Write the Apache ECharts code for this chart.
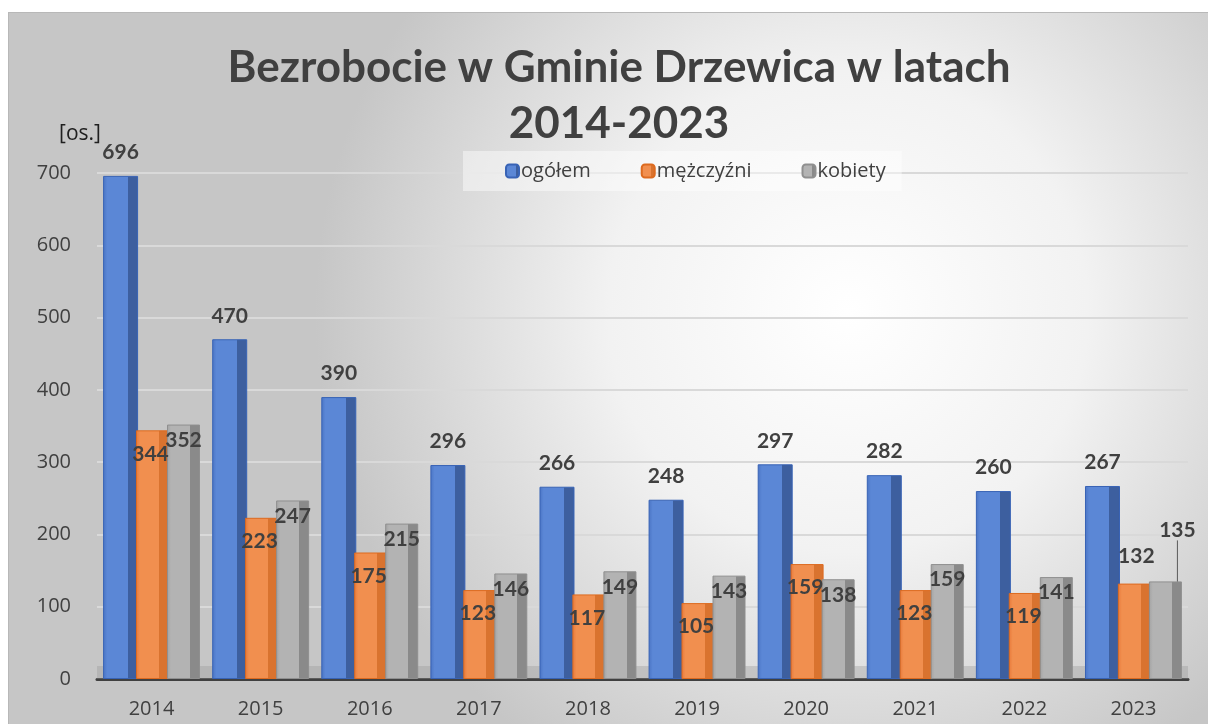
<!DOCTYPE html>
<html>
<head>
<meta charset="utf-8">
<script src="https://cdn.jsdelivr.net/npm/echarts@6/dist/echarts.min.js"></script>
<style>
  html, body { margin: 0; padding: 0; background: #ffffff; }
  #main { position: absolute; left: 8px; top: 12px; width: 1200px; height: 712px; border-top: 1px solid #b8b8b8; border-left: 1px solid #b8b8b8; box-sizing: border-box; }
</style>
</head>
<body>
<div id="main"></div>
<script>
var years = ['2014', '2015', '2016', '2017', '2018', '2019', '2020', '2021', '2022', '2023'];
var ogolem = [696, 470, 390, 296, 266, 248, 297, 282, 260, 267];
var mezczyzni = [344, 223, 175, 123, 117, 105, 159, 123, 119, 132];
var kobiety = [352, 247, 215, 146, 149, 143, 138, 159, 141, 135];
var yTicks = [0, 100, 200, 300, 400, 500, 600, 700];

function face(light, mid, dark) {
    // fake 3d: left edge, front, darker right side
    return new echarts.graphic.LinearGradient(0, 0, 1, 0, [
        {offset: 0, color: mid},
        {offset: 0.12, color: light},
        {offset: 0.7, color: light},
        {offset: 0.7, color: dark},
        {offset: 1, color: dark}
    ]);
}

var labelFont = {fontFamily: 'Lato, "Open Sans", sans-serif', fontWeight: 'bold', fontSize: 21, color: '#404040'};
var last = years.length - 1;

function main() {
    var myChart = echarts.init(document.getElementById('main'));

    var option = {
        backgroundColor: new echarts.graphic.RadialGradient(0.7, 0.42, 0.75, [
            {offset: 0, color: '#ffffff'},
            {offset: 0.45, color: '#f2f2f2'},
            {offset: 1, color: '#c6c6c6'}
        ]),
        title: {
            text: 'Bezrobocie w Gminie Drzewica w latach\n2014-2023',
            left: 605,
            textAlign: 'center',
            top: 22,
            textStyle: {
                fontFamily: 'Lato, "Open Sans", sans-serif',
                fontWeight: 'bold',
                fontSize: 44,
                lineHeight: 56,
                color: '#404040'
            }
        },
        legend: {
            data: ['ogółem', 'mężczyźni', 'kobiety'],
            left: 454,
            top: 138,
            width: 448,
            padding: [10, 16, 10, 42],
            backgroundColor: 'rgba(255,255,255,0.45)',
            itemWidth: 13,
            itemHeight: 13,
            itemGap: 50,
            textStyle: {fontFamily: '"Open Sans", sans-serif', fontSize: 20, color: '#404040', padding: [0, 0, 0, -3]}
        },
        grid: {
            left: 88,
            right: 20,
            top: 160,
            bottom: 45
        },
        xAxis: {
            type: 'category',
            data: years,
            axisLine: {lineStyle: {color: '#404040', width: 3}},
            axisTick: {show: false},
            axisLabel: {fontFamily: '"Open Sans", sans-serif', fontSize: 20, color: '#404040', margin: 20}
        },
        yAxis: {
            type: 'value',
            min: yTicks[0],
            max: yTicks[yTicks.length - 1],
            interval: 100,
            name: '[os.]',
            nameLocation: 'end',
            nameGap: 28,
            nameTextStyle: {fontFamily: '"Open Sans", sans-serif', fontSize: 21, color: '#202020', align: 'center', padding: [0, 0, 0, -34]},
            axisLine: {show: false},
            axisTick: {show: false},
            splitLine: {lineStyle: {color: '#d9d9d9', width: 2}},
            axisLabel: {fontFamily: '"Open Sans", sans-serif', fontSize: 20, color: '#404040', margin: 26, align: 'right'}
        },
        series: [
            {
                name: 'ogółem',
                type: 'bar',
                data: ogolem,
                barWidth: 35,
                barGap: '-6%',
                itemStyle: {
                    color: face('#5b87d6', '#4a74c4', '#3d5f9f'),
                    borderColor: '#3863b5',
                    borderWidth: 1
                },
                label: Object.assign({show: true, position: 'top', distance: 13}, labelFont),
                // floor of the 3d plot
                markArea: {
                    silent: true,
                    itemStyle: {color: 'rgba(150,150,150,0.35)'},
                    data: [[{yAxis: 0}, {yAxis: 18}]]
                }
            },
            {
                name: 'mężczyźni',
                type: 'bar',
                data: mezczyzni.map(function (v, i) {
                    if (i === last) {
                        return {value: v, label: {position: 'top', offset: [2, -12]}};
                    }
                    return v;
                }),
                barWidth: 33,
                itemStyle: {
                    color: face('#f18f4f', '#e8793a', '#d9732f'),
                    borderColor: '#dd6a1f',
                    borderWidth: 1
                },
                label: Object.assign({show: true, position: 'insideTop', offset: [-2, 8]}, labelFont)
            },
            {
                name: 'kobiety',
                type: 'bar',
                data: kobiety.map(function (v, i) {
                    if (i === last) {
                        return {value: v, label: {position: 'top'}, labelLine: {show: true, lineStyle: {color: '#595959', width: 1}}};
                    }
                    return v;
                }),
                barWidth: 33,
                itemStyle: {
                    color: face('#b3b3b3', '#a3a3a3', '#8a8a8a'),
                    borderColor: '#8f8f8f',
                    borderWidth: 1
                },
                labelLayout: function (params) {
                    if (params.dataIndex === last) {
                        return {dx: 12, dy: -36};
                    }
                },
                label: Object.assign({show: true, position: 'insideTop', offset: [2, -2]}, labelFont)
            }
        ]
    };

    myChart.setOption(option);
}

main();
</script>
</body>
</html>
